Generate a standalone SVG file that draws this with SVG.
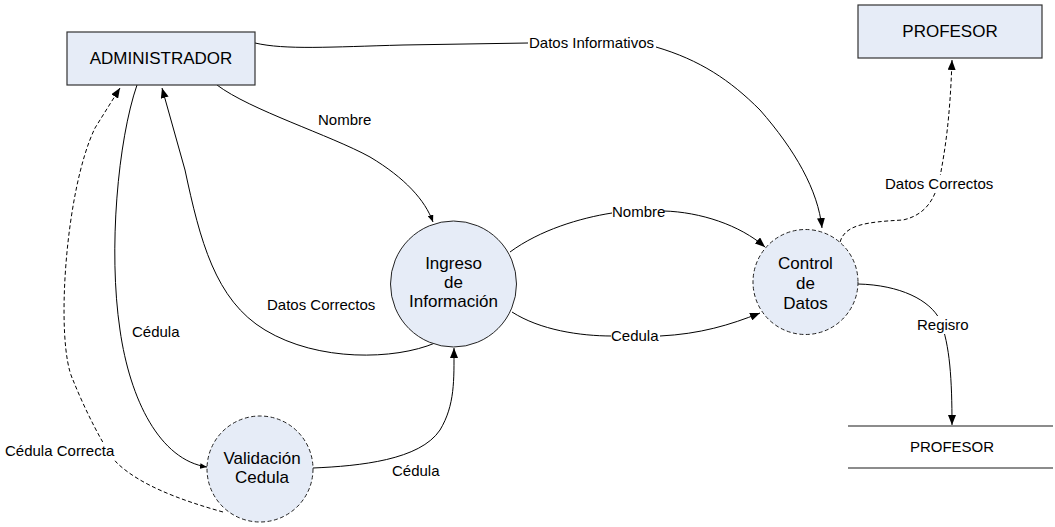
<svg xmlns="http://www.w3.org/2000/svg" width="1055" height="527" viewBox="0 0 1055 527">
<style>
.box{fill:#E6ECF7;stroke:#333;stroke-width:1.2}
.proc{fill:#E6ECF7;stroke:#222;stroke-width:1}
.dash{stroke-dasharray:4,2.5}
.nt{font-family:"Liberation Sans",Arial,sans-serif;font-size:17px;fill:#000;text-anchor:middle}
.et{font-family:"Liberation Sans",Arial,sans-serif;font-size:15px;fill:#000}
.c{fill:none;stroke:#000;stroke-width:1}
.store{stroke:#666;stroke-width:1.5}
.bg{fill:#fff}
</style>
<defs>
<marker id="ah" viewBox="0 0 10 8" refX="10" refY="4" markerWidth="10" markerHeight="8" markerUnits="userSpaceOnUse" orient="auto"><path d="M0,0 L10,4 L0,8 Z" fill="#000"/></marker>
<marker id="as" viewBox="0 0 10 8" refX="10" refY="4" markerWidth="7" markerHeight="6" markerUnits="userSpaceOnUse" orient="auto"><path d="M0,0 L10,4 L0,8 Z" fill="#000"/></marker>
</defs>
<rect width="1055" height="527" fill="#fff"/>
<g id="connectors">
<path class="c" d="M255,43 C285,50 330,47 403,45 L528,43 M656,47 C700,60 730,80 760,110 C795,150 818,190 822,228" marker-end="url(#ah)"/>
<path class="c" d="M217,85 C250,110 330,135 370,157 C405,178 425,200 433,222" marker-end="url(#as)"/>
<path class="c" d="M435,343 C395,360 318,362 265,330 C215,300 200,240 185,170 L162,88" marker-end="url(#ah)"/>
<path class="c" d="M137,85 C118,140 108,250 120,330 C130,400 160,460 207,467" marker-end="url(#as)"/>
<path class="c dash" d="M223,512 C180,500 140,485 117,463 C105,450 85,410 73,380 C55,343 65,190 95,128 L120,88" marker-end="url(#ah)"/>
<path class="c" d="M313,468 C360,466 420,460 440,430 C455,405 454,380 454,348" marker-end="url(#ah)"/>
<path class="c" d="M510,252 C540,230 580,218 612,213 L664,211 C700,212 740,225 765,247" marker-end="url(#ah)"/>
<path class="c" d="M512,312 C540,330 580,336 612,336 L660,336 C700,334 730,325 760,313" marker-end="url(#ah)"/>
<path class="c dash" d="M840,242 C845,225 865,222 903,220 C925,215 935,200 940,177 C945,150 950,120 952,60" marker-end="url(#ah)"/>
<path class="c" d="M858,284 C900,285 930,300 940,320 C950,345 952,380 952,425" marker-end="url(#ah)"/>
<rect class="bg" x="528" y="34" width="128" height="18"/>
<text class="et" x="529" y="48">Datos Informativos</text>
<text class="et" x="318" y="125">Nombre</text>
<text class="et" x="267" y="310">Datos Correctos</text>
<text class="et" x="132" y="337">Cédula</text>
<rect class="bg" x="4" y="442" width="113" height="18"/>
<text class="et" x="5" y="456">Cédula Correcta</text>
<text class="et" x="392" y="476">Cédula</text>
<rect class="bg" x="612" y="203" width="52" height="17"/>
<text class="et" x="612" y="217">Nombre</text>
<rect class="bg" x="611" y="327" width="49" height="17"/>
<text class="et" x="611" y="341">Cedula</text>
<rect class="bg" x="884" y="175" width="110" height="17"/>
<text class="et" x="885" y="189">Datos Correctos</text>
<rect class="bg" x="916" y="316" width="52" height="18"/>
<text class="et" x="917" y="330">Regisro</text>
</g>
<g id="administrador">
<rect class="box" x="67" y="32" width="188" height="53"/>
<text class="nt" x="161" y="64">ADMINISTRADOR</text>
</g>
<g id="profesor-ext">
<rect class="box" x="858" y="5" width="184" height="53"/>
<text class="nt" x="950" y="37">PROFESOR</text>
</g>
<g id="ingreso">
<circle class="proc" cx="453.5" cy="284" r="63"/>
<text class="nt" x="453.5" y="269">Ingreso</text>
<text class="nt" x="453.5" y="288">de</text>
<text class="nt" x="453.5" y="307">Información</text>
</g>
<g id="control">
<circle class="proc dash" cx="805.5" cy="282" r="52.5"/>
<text class="nt" x="805.5" y="269">Control</text>
<text class="nt" x="805.5" y="289">de</text>
<text class="nt" x="805.5" y="309">Datos</text>
</g>
<g id="validacion">
<circle class="proc dash" cx="260" cy="469" r="53"/>
<text class="nt" x="262" y="464">Validación</text>
<text class="nt" x="262" y="483">Cedula</text>
</g>
<g id="profesor-store">
<line class="store" x1="848" y1="426" x2="1053" y2="426"/>
<line class="store" x1="848" y1="468" x2="1053" y2="468"/>
<text class="et" x="952" y="452" text-anchor="middle">PROFESOR</text>
</g>
</svg>
